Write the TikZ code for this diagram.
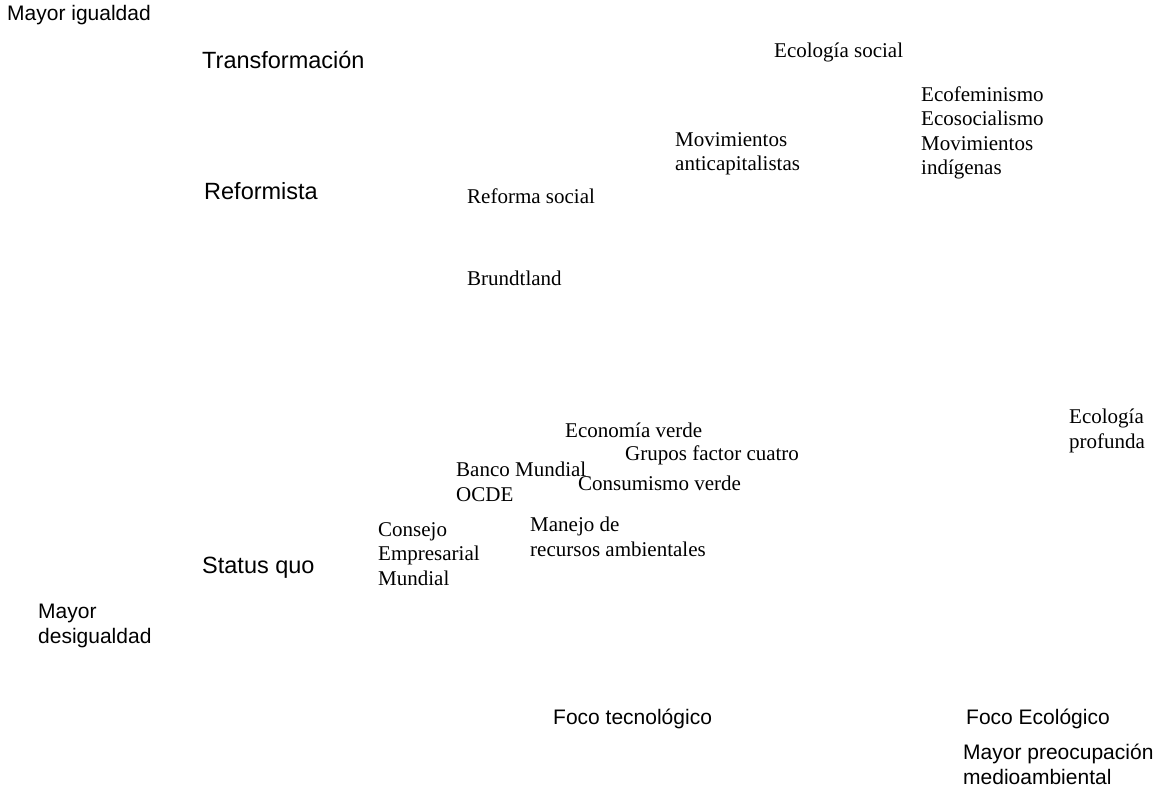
\documentclass[tikz,border=0pt]{standalone}
\usepackage{fontspec}
\setmainfont{Liberation Serif}
\newfontfamily\arialf{Liberation Sans}
\begin{document}
\begin{tikzpicture}[x=1pt,y=-1pt,
  ser/.style={anchor=west,inner sep=0pt,align=left,font=\fontsize{21}{24.5}\selectfont},
  sanss/.style={anchor=west,inner sep=0pt,align=left,font=\arialf\fontsize{21}{25}\selectfont},
  sansb/.style={anchor=west,inner sep=0pt,align=left,font=\arialf\fontsize{23.5}{27}\selectfont}]
\useasboundingbox (0,0) rectangle (1158,789);
% axis labels
\node[sanss] (mi) at (7,15) {Mayor igualdad};
\node[sansb] (tr) at (202,60) {Transformación};
\node[sansb] (rf) at (204,191) {Reformista};
\node[sansb] (sq) at (202,568) {Status quo};
\node[sanss] (md) at (38,626) {Mayor\\desigualdad};
\node[sanss] (ft) at (553,719) {Foco tecnológico};
\node[sanss] (fe) at (966,719) {Foco Ecológico};
\node[sanss] (mp) at (963,764) {Mayor preocupación\\medioambiental};
% approaches
\node[ser] (es) at (774,52) {Ecología social};
\node[ser] (eco) at (921,133) {Ecofeminismo\\Ecosocialismo\\Movimientos\\indígenas};
\node[ser] (ma) at (675,154) {Movimientos\\anticapitalistas};
\node[ser] (rs) at (467,196) {Reforma social};
\node[ser] (br) at (467,278) {Brundtland};
\node[ser] (ev) at (565,430) {Economía verde};
\node[ser] (gf) at (625,455) {Grupos factor cuatro};
\node[ser] (bm) at (456,482) {Banco Mundial\\OCDE};
\node[ser] (cv) at (578,483) {Consumismo verde};
\node[ser] (mr) at (530,537) {Manejo de\\recursos ambientales};
\node[ser] (ce) at (378,554) {Consejo\\Empresarial\\Mundial};
\node[ser] (ep) at (1069,431) {Ecología\\profunda};
\end{tikzpicture}
\end{document}
